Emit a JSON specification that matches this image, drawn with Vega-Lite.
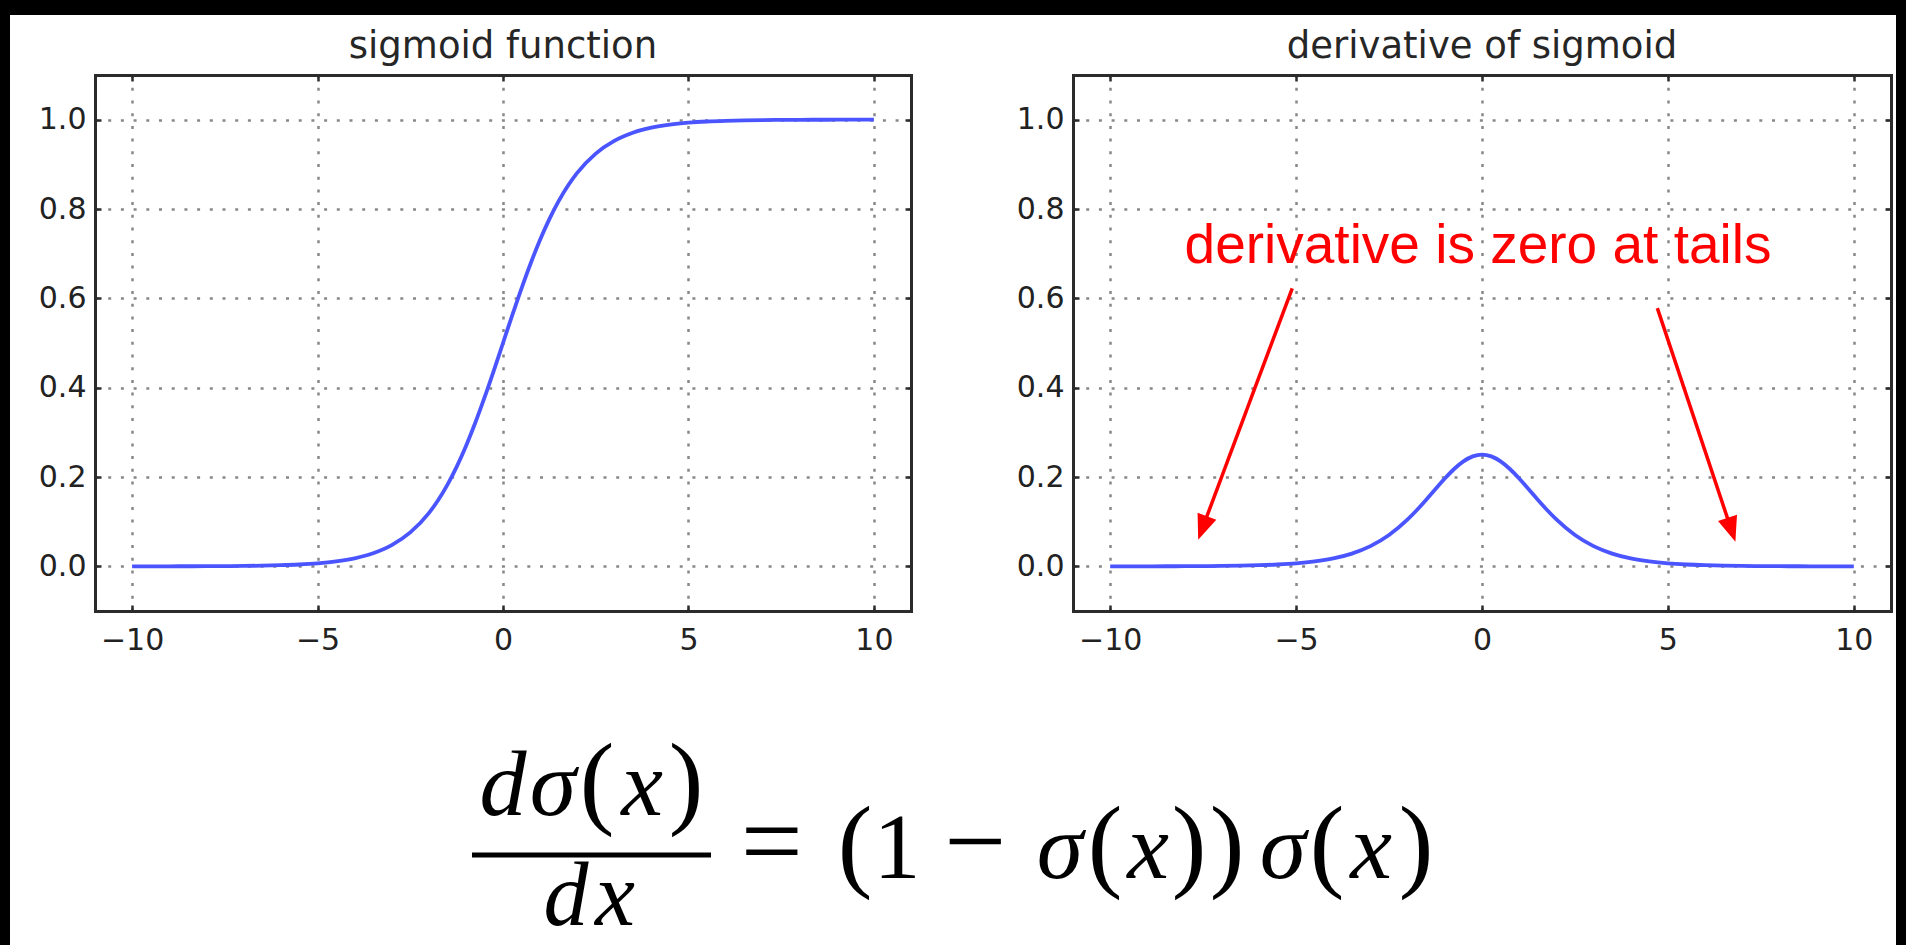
{
  "$schema": "https://vega.github.io/schema/vega-lite/v6.json",
  "autosize": "none",
  "width": 1886,
  "height": 930,
  "padding": {"left": 10, "top": 15, "right": 10, "bottom": 0},
  "background": "black",
  "config": {
    "font": "DejaVu Sans",
    "view": {"fill": "white", "stroke": null},
    "axis": {
      "title": null,
      "labelFont": "DejaVu Sans", "labelFontSize": 30, "labelColor": "#222222",
      "labelFlush": false, "labelOverlap": false,
      "tickColor": "#2b2b2b", "tickWidth": 2.5, "tickSize": -6,
      "domainColor": "#2b2b2b", "domainWidth": 3, "domainCap": "square",
      "gridColor": "#888888", "gridWidth": 2.5, "gridDash": [3, 9.7]
    }
  },
  "datasets": {
    "curve": [
      {"x": -10, "s": 0.0000, "ds": 0.0000},
      {"x": -9.5, "s": 0.0001, "ds": 0.0001},
      {"x": -9, "s": 0.0001, "ds": 0.0001},
      {"x": -8.5, "s": 0.0002, "ds": 0.0002},
      {"x": -8, "s": 0.0003, "ds": 0.0003},
      {"x": -7.5, "s": 0.0006, "ds": 0.0006},
      {"x": -7, "s": 0.0009, "ds": 0.0009},
      {"x": -6.5, "s": 0.0015, "ds": 0.0015},
      {"x": -6, "s": 0.0025, "ds": 0.0025},
      {"x": -5.5, "s": 0.0041, "ds": 0.0041},
      {"x": -5, "s": 0.0067, "ds": 0.0066},
      {"x": -4.5, "s": 0.0110, "ds": 0.0109},
      {"x": -4, "s": 0.0180, "ds": 0.0177},
      {"x": -3.5, "s": 0.0293, "ds": 0.0285},
      {"x": -3, "s": 0.0474, "ds": 0.0452},
      {"x": -2.5, "s": 0.0759, "ds": 0.0701},
      {"x": -2, "s": 0.1192, "ds": 0.1050},
      {"x": -1.75, "s": 0.1480, "ds": 0.1261},
      {"x": -1.5, "s": 0.1824, "ds": 0.1491},
      {"x": -1.25, "s": 0.2227, "ds": 0.1731},
      {"x": -1, "s": 0.2689, "ds": 0.1966},
      {"x": -0.75, "s": 0.3208, "ds": 0.2179},
      {"x": -0.5, "s": 0.3775, "ds": 0.2350},
      {"x": -0.25, "s": 0.4378, "ds": 0.2461},
      {"x": 0, "s": 0.5000, "ds": 0.2500},
      {"x": 0.25, "s": 0.5622, "ds": 0.2461},
      {"x": 0.5, "s": 0.6225, "ds": 0.2350},
      {"x": 0.75, "s": 0.6792, "ds": 0.2179},
      {"x": 1, "s": 0.7311, "ds": 0.1966},
      {"x": 1.25, "s": 0.7773, "ds": 0.1731},
      {"x": 1.5, "s": 0.8176, "ds": 0.1491},
      {"x": 1.75, "s": 0.8520, "ds": 0.1261},
      {"x": 2, "s": 0.8808, "ds": 0.1050},
      {"x": 2.5, "s": 0.9241, "ds": 0.0701},
      {"x": 3, "s": 0.9526, "ds": 0.0452},
      {"x": 3.5, "s": 0.9707, "ds": 0.0285},
      {"x": 4, "s": 0.9820, "ds": 0.0177},
      {"x": 4.5, "s": 0.9890, "ds": 0.0109},
      {"x": 5, "s": 0.9933, "ds": 0.0066},
      {"x": 5.5, "s": 0.9959, "ds": 0.0041},
      {"x": 6, "s": 0.9975, "ds": 0.0025},
      {"x": 6.5, "s": 0.9985, "ds": 0.0015},
      {"x": 7, "s": 0.9991, "ds": 0.0009},
      {"x": 7.5, "s": 0.9994, "ds": 0.0006},
      {"x": 8, "s": 0.9997, "ds": 0.0003},
      {"x": 8.5, "s": 0.9998, "ds": 0.0002},
      {"x": 9, "s": 0.9999, "ds": 0.0001},
      {"x": 9.5, "s": 0.9999, "ds": 0.0001},
      {"x": 10, "s": 1.0000, "ds": 0.0000}
    ],
    "one": [{}]
  },
  "resolve": {
    "scale": {"x": "independent", "y": "independent"},
    "axis": {"x": "independent", "y": "independent"}
  },
  "layer": [
    {
      "data": {"name": "curve"},
      "resolve": {"axis": {"x": "independent", "y": "independent"}},
      "layer": [
        {
          "mark": {"type": "line", "color": "#4a55ff", "strokeWidth": 3.8, "interpolate": "monotone"},
          "encoding": {
            "x": {"field": "x", "type": "quantitative",
              "scale": {"domain": [-11, 11], "range": [85, 901], "nice": false, "zero": false},
              "axis": {"orient": "bottom", "offset": -334, "values": [-10, -5, 0, 5, 10], "grid": false, "labelPadding": 20}},
            "y": {"field": "s", "type": "quantitative",
              "scale": {"domain": [-0.1, 1.1], "range": [596, 60], "nice": false, "zero": false},
              "axis": {"orient": "left", "offset": -85, "values": [0, 0.2, 0.4, 0.6, 0.8, 1], "format": ".1f", "grid": true, "labelPadding": 15}}
          }
        },
        {
          "mark": {"type": "point", "opacity": 0},
          "encoding": {
            "x": {"field": "x", "type": "quantitative",
              "axis": {"orient": "top", "offset": -60, "values": [-10, -5, 0, 5, 10], "grid": true, "labels": false}},
            "y": {"field": "s", "type": "quantitative",
              "axis": {"orient": "right", "offset": -985, "values": [0, 0.2, 0.4, 0.6, 0.8, 1], "grid": false, "labels": false}}
          }
        },
        {
          "data": {"name": "one"},
          "mark": {"type": "text", "font": "DejaVu Sans", "fontSize": 37, "color": "#262626", "align": "center", "baseline": "alphabetic", "dy": -17},
          "encoding": {
            "x": {"datum": 0, "type": "quantitative", "axis": null},
            "y": {"datum": 1.1, "type": "quantitative", "axis": null},
            "text": {"value": "sigmoid function"}
          }
        }
      ]
    },
    {
      "data": {"name": "curve"},
      "resolve": {"axis": {"x": "independent", "y": "independent"}},
      "layer": [
        {
          "mark": {"type": "line", "color": "#4a55ff", "strokeWidth": 3.8, "interpolate": "monotone"},
          "encoding": {
            "x": {"field": "x", "type": "quantitative",
              "scale": {"domain": [-11, 11], "range": [1063, 1881], "nice": false, "zero": false},
              "axis": {"orient": "bottom", "offset": -334, "values": [-10, -5, 0, 5, 10], "grid": false, "labelPadding": 20}},
            "y": {"field": "ds", "type": "quantitative",
              "scale": {"domain": [-0.1, 1.1], "range": [596, 60], "nice": false, "zero": false},
              "axis": {"orient": "left", "offset": -1063, "values": [0, 0.2, 0.4, 0.6, 0.8, 1], "format": ".1f", "grid": true, "labelPadding": 15}}
          }
        },
        {
          "mark": {"type": "point", "opacity": 0},
          "encoding": {
            "x": {"field": "x", "type": "quantitative",
              "axis": {"orient": "top", "offset": -60, "values": [-10, -5, 0, 5, 10], "grid": true, "labels": false}},
            "y": {"field": "ds", "type": "quantitative",
              "axis": {"orient": "right", "offset": -5, "values": [0, 0.2, 0.4, 0.6, 0.8, 1], "grid": false, "labels": false}}
          }
        },
        {
          "data": {"name": "one"},
          "mark": {"type": "text", "font": "DejaVu Sans", "fontSize": 37, "color": "#262626", "align": "center", "baseline": "alphabetic", "dy": -17},
          "encoding": {
            "x": {"datum": 0, "type": "quantitative", "axis": null},
            "y": {"datum": 1.1, "type": "quantitative", "axis": null},
            "text": {"value": "derivative of sigmoid"}
          }
        },
        {
          "data": {"name": "one"},
          "mark": {"type": "text", "font": "Liberation Sans", "fontSize": 55, "color": "#ff0000", "align": "left", "baseline": "alphabetic"},
          "encoding": {
            "x": {"datum": -8, "type": "quantitative", "axis": null},
            "y": {"datum": 0.68, "type": "quantitative", "axis": null},
            "text": {"value": "derivative is zero at tails"}
          }
        },
        {
          "data": {"name": "one"},
          "mark": {"type": "rule", "color": "#ff0000", "strokeWidth": 3.5},
          "encoding": {
            "x": {"datum": -5.104, "type": "quantitative", "axis": null},
            "y": {"datum": 0.6225, "type": "quantitative", "axis": null},
            "x2": {"datum": -7.52},
            "y2": {"datum": 0.085}
          }
        },
        {
          "data": {"name": "one"},
          "mark": {"type": "rule", "color": "#ff0000", "strokeWidth": 3.5},
          "encoding": {
            "x": {"datum": 4.716, "type": "quantitative", "axis": null},
            "y": {"datum": 0.578, "type": "quantitative", "axis": null},
            "x2": {"datum": 6.71},
            "y2": {"datum": 0.081}
          }
        },
        {
          "data": {"name": "one"},
          "mark": {"type": "point", "shape": "M0,0L-0.8,2L0.8,2Z", "size": 625, "angle": 200.5, "filled": true, "color": "#ff0000", "opacity": 1, "strokeWidth": 0},
          "encoding": {
            "x": {"datum": -7.633, "type": "quantitative", "axis": null},
            "y": {"datum": 0.0597, "type": "quantitative", "axis": null}
          }
        },
        {
          "data": {"name": "one"},
          "mark": {"type": "point", "shape": "M0,0L-0.8,2L0.8,2Z", "size": 625, "angle": 161.6, "filled": true, "color": "#ff0000", "opacity": 1, "strokeWidth": 0},
          "encoding": {
            "x": {"datum": 6.815, "type": "quantitative", "axis": null},
            "y": {"datum": 0.0552, "type": "quantitative", "axis": null}
          }
        }
      ]
    },
    {
      "data": {"name": "one"},
      "layer": [
        {"mark": {"type": "text", "font": "Liberation Serif", "fontSize": 94, "fontStyle": "italic", "color": "black", "align": "center", "baseline": "alphabetic"},
         "encoding": {
           "x": {"datum": 4.18, "type": "quantitative", "scale": {"domain": [0, 100], "range": [452, 1432], "nice": false, "zero": false}, "axis": null},
           "y": {"datum": 63.41, "type": "quantitative", "scale": {"domain": [0, 100], "range": [930, 725], "nice": false, "zero": false}, "axis": null},
           "text": {"value": "d"}}},
        {"mark": {"type": "text", "font": "Liberation Serif", "fontSize": 94, "fontStyle": "italic", "color": "black", "align": "center", "baseline": "alphabetic"},
         "encoding": {"x": {"datum": 9.29, "axis": null}, "y": {"datum": 63.41, "axis": null}, "text": {"value": "σ"}}},
        {"mark": {"type": "text", "font": "Liberation Serif", "fontSize": 104, "color": "black", "align": "center", "baseline": "alphabetic"},
         "encoding": {"x": {"datum": 13.78, "axis": null}, "y": {"datum": 63.41, "axis": null}, "text": {"value": "("}}},
        {"mark": {"type": "text", "font": "Liberation Serif", "fontSize": 94, "fontStyle": "italic", "color": "black", "align": "center", "baseline": "alphabetic"},
         "encoding": {"x": {"datum": 18.37, "axis": null}, "y": {"datum": 63.41, "axis": null}, "text": {"value": "x"}}},
        {"mark": {"type": "text", "font": "Liberation Serif", "fontSize": 104, "color": "black", "align": "center", "baseline": "alphabetic"},
         "encoding": {"x": {"datum": 22.86, "axis": null}, "y": {"datum": 63.41, "axis": null}, "text": {"value": ")"}}},
        {"mark": {"type": "rule", "color": "black", "strokeWidth": 5},
         "encoding": {"x": {"datum": 1.02, "axis": null}, "x2": {"datum": 25.41}, "y": {"datum": 43.9, "axis": null}}},
        {"mark": {"type": "text", "font": "Liberation Serif", "fontSize": 90, "fontStyle": "italic", "color": "black", "align": "center", "baseline": "alphabetic"},
         "encoding": {"x": {"datum": 10.6, "axis": null}, "y": {"datum": 9.76, "axis": null}, "text": {"value": "d"}}},
        {"mark": {"type": "text", "font": "Liberation Serif", "fontSize": 90, "fontStyle": "italic", "color": "black", "align": "center", "baseline": "alphabetic"},
         "encoding": {"x": {"datum": 15.6, "axis": null}, "y": {"datum": 9.76, "axis": null}, "text": {"value": "x"}}},
        {"mark": {"type": "text", "font": "Liberation Serif", "fontSize": 110, "color": "black", "align": "center", "baseline": "alphabetic"},
         "encoding": {"x": {"datum": 31.6, "axis": null}, "y": {"datum": 32.68, "axis": null}, "text": {"value": "="}}},
        {"mark": {"type": "text", "font": "Liberation Serif", "fontSize": 104, "color": "black", "align": "center", "baseline": "alphabetic"},
         "encoding": {"x": {"datum": 40.10, "axis": null}, "y": {"datum": 32.68, "axis": null}, "text": {"value": "("}}},
        {"mark": {"type": "text", "font": "Liberation Serif", "fontSize": 94, "color": "black", "align": "center", "baseline": "alphabetic"},
         "encoding": {"x": {"datum": 44.39, "axis": null}, "y": {"datum": 32.68, "axis": null}, "text": {"value": "1"}}},
        {"mark": {"type": "text", "font": "Liberation Serif", "fontSize": 110, "color": "black", "align": "center", "baseline": "alphabetic"},
         "encoding": {"x": {"datum": 52.35, "axis": null}, "y": {"datum": 32.68, "axis": null}, "text": {"value": "−"}}},
        {"mark": {"type": "text", "font": "Liberation Serif", "fontSize": 94, "fontStyle": "italic", "color": "black", "align": "center", "baseline": "alphabetic"},
         "encoding": {"x": {"datum": 61.02, "axis": null}, "y": {"datum": 32.68, "axis": null}, "text": {"value": "σ"}}},
        {"mark": {"type": "text", "font": "Liberation Serif", "fontSize": 104, "color": "black", "align": "center", "baseline": "alphabetic"},
         "encoding": {"x": {"datum": 65.61, "axis": null}, "y": {"datum": 32.68, "axis": null}, "text": {"value": "("}}},
        {"mark": {"type": "text", "font": "Liberation Serif", "fontSize": 94, "fontStyle": "italic", "color": "black", "align": "center", "baseline": "alphabetic"},
         "encoding": {"x": {"datum": 70.0, "axis": null}, "y": {"datum": 32.68, "axis": null}, "text": {"value": "x"}}},
        {"mark": {"type": "text", "font": "Liberation Serif", "fontSize": 104, "color": "black", "align": "center", "baseline": "alphabetic"},
         "encoding": {"x": {"datum": 74.18, "axis": null}, "y": {"datum": 32.68, "axis": null}, "text": {"value": ")"}}},
        {"mark": {"type": "text", "font": "Liberation Serif", "fontSize": 104, "color": "black", "align": "center", "baseline": "alphabetic"},
         "encoding": {"x": {"datum": 78.06, "axis": null}, "y": {"datum": 32.68, "axis": null}, "text": {"value": ")"}}},
        {"mark": {"type": "text", "font": "Liberation Serif", "fontSize": 94, "fontStyle": "italic", "color": "black", "align": "center", "baseline": "alphabetic"},
         "encoding": {"x": {"datum": 83.78, "axis": null}, "y": {"datum": 32.68, "axis": null}, "text": {"value": "σ"}}},
        {"mark": {"type": "text", "font": "Liberation Serif", "fontSize": 104, "color": "black", "align": "center", "baseline": "alphabetic"},
         "encoding": {"x": {"datum": 88.27, "axis": null}, "y": {"datum": 32.68, "axis": null}, "text": {"value": "("}}},
        {"mark": {"type": "text", "font": "Liberation Serif", "fontSize": 94, "fontStyle": "italic", "color": "black", "align": "center", "baseline": "alphabetic"},
         "encoding": {"x": {"datum": 92.76, "axis": null}, "y": {"datum": 32.68, "axis": null}, "text": {"value": "x"}}},
        {"mark": {"type": "text", "font": "Liberation Serif", "fontSize": 104, "color": "black", "align": "center", "baseline": "alphabetic"},
         "encoding": {"x": {"datum": 97.35, "axis": null}, "y": {"datum": 32.68, "axis": null}, "text": {"value": ")"}}}
      ]
    }
  ]
}
